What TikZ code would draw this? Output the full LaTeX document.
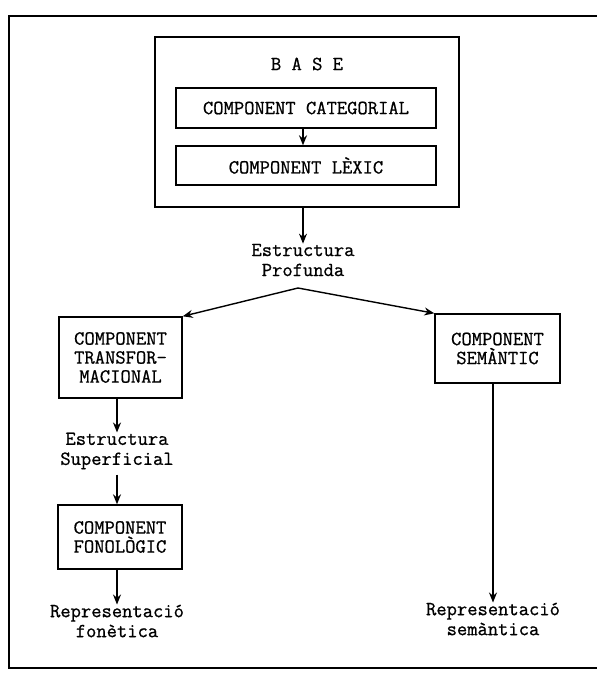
\documentclass[tikz,border=0pt]{standalone}
\usepackage{fontspec}
\newfontfamily\twfont[FakeBold=0.8]{Latin Modern Mono}
\usetikzlibrary{arrows.meta}
\begin{document}
\begin{tikzpicture}[x=1pt,y=-1pt,
  txt/.style={font=\twfont\fontsize{20}{20}\selectfont, align=center, inner sep=0pt},
  box/.style={draw, line width=1.4pt, inner sep=0pt, font=\twfont\fontsize{20}{19}\selectfont, align=center},
  arr/.style={line width=1.4pt, -{Stealth[length=10pt,width=8pt]}},
  frame/.style={line width=1.4pt}]
\useasboundingbox (0,0) rectangle (597,673);
% frame
\coordinate (f1) at (597,16);
\coordinate (f2) at (9,16);
\coordinate (f3) at (9,668);
\coordinate (f4) at (597,668);
\draw[frame] (f1) -- (f2) -- (f3) -- (f4);
% base
\node[box, line width=1.6pt, minimum width=304pt, minimum height=170pt] (base) at (307,122) {};
\node[txt] (basetxt) at (307,64) {B A S E};
\node[box, minimum width=260pt, minimum height=40pt] (cat) at (306,108) {COMPONENT CATEGORIAL};
\node[box, minimum width=260pt, minimum height=39pt] (lex) at (306,165.5) {COMPONENT LÈXIC};
\draw[arr] (cat.south -| 303,0) -- (lex.north -| 303,0);
% deep structure
\node[txt] (ep) at (303,260) {Estructura\\Profunda};
\draw[arr] (base.south -| ep.north) -- (ep.north);
\coordinate (apex) at (298,288);
% left column
\node[box, minimum width=123pt, minimum height=81pt] (trans) at (120.5,357.5) {COMPONENT\\TRANSFOR-\\MACIONAL};
\node[box, minimum width=125pt, minimum height=69pt] (sem) at (497.5,348.5) {COMPONENT\\SEMÀNTIC};
\draw[arr] (apex) -- (trans.north east);
\draw[arr] (apex) -- (sem.north west);
\node[txt] (es) at (117,451) {Estructura\\Superficial};
\draw[arr] (trans.south -| es.north) -- (es.north);
\node[box, minimum width=124pt, minimum height=64pt] (fon) at (120,537) {COMPONENT\\FONOLÒGIC};
\draw[arr] (es.south) ++(0,5) -- (fon.north -| es.south);
\node[txt] (rf) at (117,621) {Representació\\fonètica};
\draw[arr] (fon.south -| rf.north) -- (rf.north);
% right column
\node[txt] (rs) at (493,619) {Representació\\semàntica};
\draw[arr] (sem.south -| rs.north) -- (rs.north);
\end{tikzpicture}
\end{document}
